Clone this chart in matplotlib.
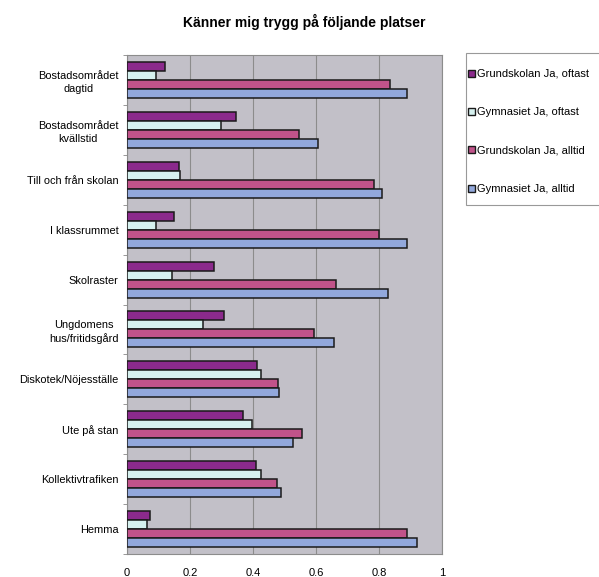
import matplotlib
matplotlib.use("Agg")
import matplotlib.pyplot as plt
import numpy as np
from matplotlib.patches import Patch, Rectangle

plt.rcParams['font.family'] = ['Liberation Sans', 'DejaVu Sans']

categories = ["Bostadsområdet\ndagtid", "Bostadsområdet\nkvällstid", "Till och från skolan",
              "I klassrummet", "Skolraster", "Ungdomens\nhus/fritidsgård",
              "Diskotek/Nöjesställe", "Ute på stan", "Kollektivtrafiken", "Hemma"]
series_names = ["Grundskolan Ja, oftast", "Gymnasiet Ja, oftast",
                "Grundskolan Ja, alltid", "Gymnasiet Ja, alltid"]
grund_oftast = [0.122, 0.347, 0.166, 0.149, 0.276, 0.307, 0.413, 0.368, 0.410, 0.072]
gymn_oftast  = [0.092, 0.297, 0.168, 0.092, 0.142, 0.242, 0.425, 0.397, 0.425, 0.064]
grund_alltid = [0.834, 0.545, 0.784, 0.800, 0.665, 0.593, 0.479, 0.556, 0.477, 0.888]
gymn_alltid  = [0.890, 0.607, 0.808, 0.888, 0.830, 0.656, 0.483, 0.526, 0.490, 0.921]
xticks = [0, 0.2, 0.4, 0.6, 0.8, 1]
xtick_labels = ["0", "0.2", "0.4", "0.6", "0.8", "1"]
title = "Känner mig trygg på följande platser"

colors = ["#8B2A8C", "#D6F1EF", "#C1538A", "#92A8DC"]
series = [grund_oftast, gymn_oftast, grund_alltid, gymn_alltid]

fig = plt.figure(figsize=(5.99, 5.77), dpi=100)
ax = fig.add_axes([127/599, 1-554/577, (442-127)/599, (554-55)/577])
ax.set_facecolor("#C2C0C8")

n = len(categories)
y = np.arange(n)
h = 0.18
for i, (vals, c) in enumerate(zip(series, colors)):
    ax.barh(y - 1.5*h + i*h, vals, height=h, color=c, edgecolor="#1a1a1a", linewidth=1.1,
            label=series_names[i], zorder=3)

ax.set_xlim(0, 1)
ax.set_ylim(n - 0.5, -0.5)
ax.set_xticks(xticks)
ax.set_xticklabels(xtick_labels, fontsize=8)
ax.set_yticks(y)
ax.set_yticklabels(categories, fontsize=7.9, multialignment='center', linespacing=1.35)
ax.tick_params(axis='y', length=0, pad=6)
ax.set_yticks(np.arange(n + 1) - 0.5, minor=True)
ax.tick_params(axis='y', which='minor', length=3, color='#888888')
ax.tick_params(axis='x', length=0, pad=10)
ax.grid(axis='x', color='#8c8c8c', linewidth=0.8, zorder=0)
for s in ['top', 'right', 'bottom', 'left']:
    ax.spines[s].set_color('#8c8c8c')

fig.text(304/599, 1-22/577, title, ha='center', va='center', fontsize=10, fontweight='bold')

# legend frame
fig.patches.append(Rectangle((466/599, 1-205/577), (640-466)/599, (205-53)/577,
                             transform=fig.transFigure, facecolor='white',
                             edgecolor='#999999', linewidth=0.8, zorder=0))
handles = [Patch(facecolor=c, edgecolor='#1a1a1a', linewidth=1.0) for c in colors]
leg = fig.legend(handles, series_names, loc='upper left', bbox_to_anchor=(468/599, 1-69/577),
                 fontsize=8, frameon=False, handlelength=0.6, handleheight=0.6,
                 handletextpad=0.2, labelspacing=2.55, borderpad=0, borderaxespad=0)

fig.savefig("out.png", dpi=100)
